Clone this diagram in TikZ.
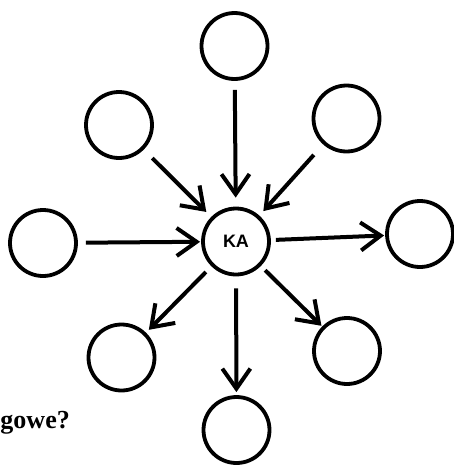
\documentclass[tikz,border=0pt]{standalone}
\usepackage{fontspec}
\setmainfont{Liberation Serif}
\setsansfont{Liberation Sans}
\usetikzlibrary{arrows.meta}
\begin{document}
\begin{tikzpicture}[x=1pt,y=-1pt,
  bub/.style={circle,draw,line width=3.8pt,minimum size=66pt,inner sep=0pt},
  arr/.style={line width=4pt,-{Straight Barb[length=20pt,width=28pt,line width=4pt]}}]
\useasboundingbox (0,0) rectangle (454,466);
\node[bub] (ka) at (236,241.5) {\sffamily\bfseries\fontsize{18}{18}\selectfont KA};
\node[bub] (t) at (234.5,46) {};
\node[bub] (ul) at (119,125) {};
\node[bub] (ur) at (346.5,118.5) {};
\node[bub] (l) at (43,243) {};
\node[bub] (r) at (420,234) {};
\node[bub] (ll) at (121.5,357.5) {};
\node[bub] (lr) at (347,351) {};
\node[bub] (b) at (236.5,430) {};
\draw[arr,shorten <=9pt,shorten >=9pt] (t) -- (ka);
\draw[arr,shorten <=12pt,shorten >=7pt] (ul) -- (ka);
\draw[arr,shorten <=14pt,shorten >=6pt] (ur) -- (ka);
\draw[arr,shorten <=8pt,shorten >=1pt] (l) -- (ka);
\draw[arr,shorten <=5pt,shorten >=1pt] (ka) -- (r);
\draw[arr,shorten <=8pt,shorten >=4pt] (ka) -- (ll);
\draw[arr,shorten <=12pt,shorten >=3pt] (ka) -- (b);
\draw[arr,shorten <=6pt,shorten >=1pt] (ka) -- (lr);
\node[anchor=base east,inner sep=0pt,font=\bfseries\fontsize{26}{26}\selectfont] (q) at (70,428) {gowe?};
\end{tikzpicture}
\end{document}
